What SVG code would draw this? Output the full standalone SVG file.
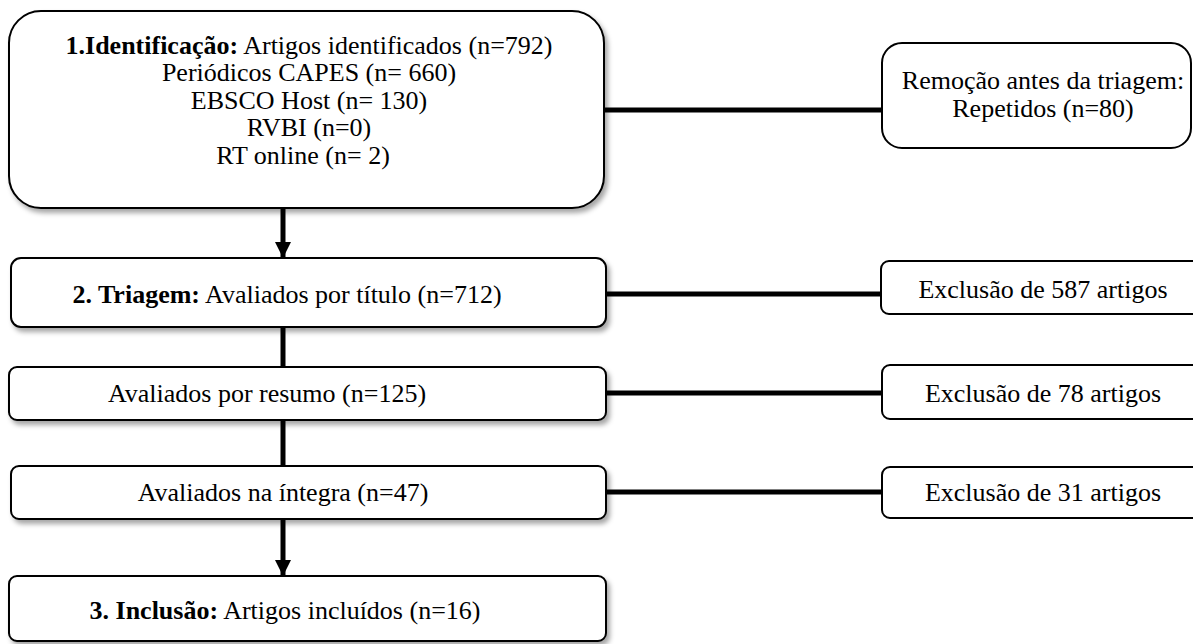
<svg xmlns="http://www.w3.org/2000/svg" width="1193" height="644" viewBox="0 0 1193 644">
<defs>
<filter id="sh" x="-5%" y="-10%" width="115%" height="130%">
<feDropShadow dx="3" dy="4" stdDeviation="2.5" flood-color="#000" flood-opacity="0.35"/>
</filter>
<marker id="arr" viewBox="0 0 10 10" refX="10" refY="5" markerWidth="3.6" markerHeight="3.2" orient="auto" markerUnits="strokeWidth">
<path d="M0,0 L10,5 L0,10 z" fill="#000"/>
</marker>
<style>
.box{fill:#fff;stroke:#000;stroke-width:2}
.l{filter:url(#sh)}
text{font-family:"Times New Roman","Liberation Serif",Tinos,serif;font-size:26px;fill:#000;text-anchor:middle}
.b{font-weight:bold}
.c{stroke:#000;stroke-width:5;fill:none}
</style>
</defs>
<rect width="1193" height="644" fill="#fff"/>
<g id="connectors">
<line class="c" x1="605" y1="110" x2="882" y2="110"/>
<line class="c" x1="606" y1="294" x2="882" y2="294"/>
<line class="c" x1="606" y1="393" x2="882" y2="393"/>
<line class="c" x1="606" y1="492" x2="882" y2="492"/>
<line class="c" x1="283" y1="209" x2="283" y2="258" marker-end="url(#arr)"/>
<line class="c" x1="283" y1="327" x2="283" y2="367"/>
<line class="c" x1="283" y1="420" x2="283" y2="466"/>
<line class="c" x1="283" y1="519" x2="283" y2="576" marker-end="url(#arr)"/>
</g>
<g id="n1">
<rect class="box l" x="9" y="11" width="595" height="197" rx="32"/>
<text x="309" y="54"><tspan class="b">1.Identificação:</tspan> Artigos identificados (n=792)</text>
<text x="309" y="81">Periódicos CAPES (n= 660)</text>
<text x="309" y="109">EBSCO Host (n= 130)</text>
<text x="309" y="136">RVBI (n=0)</text>
<text x="303" y="164">RT online (n= 2)</text>
</g>
<g id="n2">
<rect class="box l" x="11" y="258" width="595" height="69" rx="10"/>
<text x="287" y="303"><tspan class="b">2. Triagem:</tspan> Avaliados por título (n=712)</text>
</g>
<g id="n3">
<rect class="box l" x="9" y="367" width="597" height="53" rx="8"/>
<text x="267" y="402">Avaliados por resumo (n=125)</text>
</g>
<g id="n4">
<rect class="box l" x="11" y="466" width="595" height="53" rx="8"/>
<text x="283" y="501">Avaliados na íntegra (n=47)</text>
</g>
<g id="n5">
<rect class="box l" x="9" y="576" width="597" height="65" rx="8"/>
<text x="285" y="619"><tspan class="b">3. Inclusão:</tspan> Artigos incluídos (n=16)</text>
</g>
<g id="r1">
<rect class="box" x="882" y="43" width="309" height="105" rx="20"/>
<text x="1043" y="89">Remoção antes da triagem:</text>
<text x="1043" y="117">Repetidos (n=80)</text>
</g>
<g id="r2">
<rect class="box" x="881" y="261" width="330" height="53" rx="8"/>
<text x="1043" y="298">Exclusão de 587 artigos</text>
</g>
<g id="r3">
<rect class="box" x="882" y="365" width="330" height="54" rx="8"/>
<text x="1043" y="402">Exclusão de 78 artigos</text>
</g>
<g id="r4">
<rect class="box" x="882" y="467" width="330" height="51" rx="8"/>
<text x="1043" y="501">Exclusão de 31 artigos</text>
</g>
</svg>
